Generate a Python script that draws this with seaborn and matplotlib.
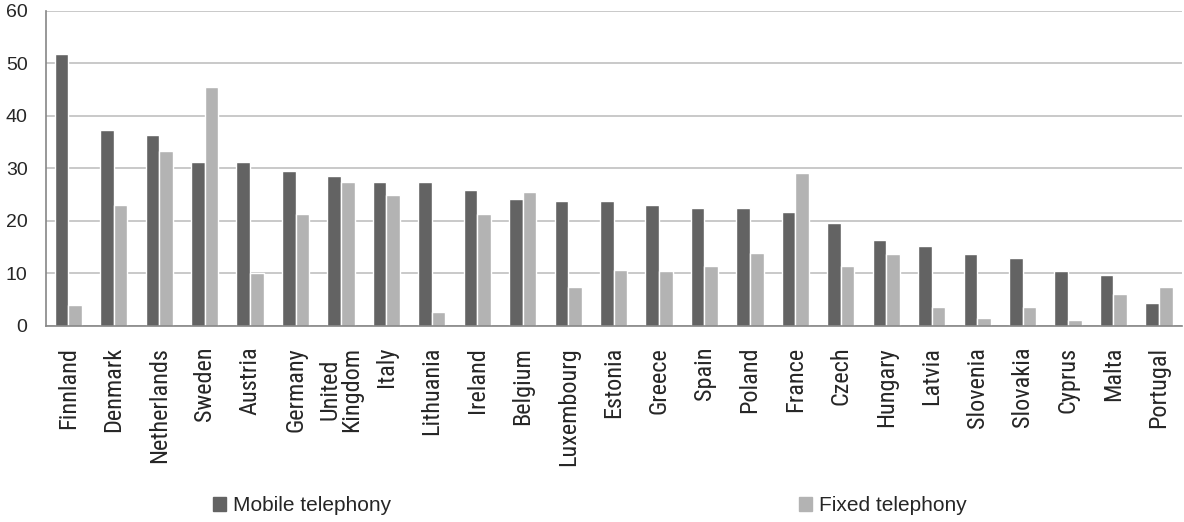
import pandas as pd
import seaborn as sns
import matplotlib.pyplot as plt
from matplotlib.patches import Patch

# country names, as shown on the x axis
countries = ["Finnland", "Denmark", "Netherlands", "Sweden", "Austria", "Germany",
             "United\nKingdom", "Italy", "Lithuania", "Ireland", "Belgium", "Luxembourg",
             "Estonia", "Greece", "Spain", "Poland", "France", "Czech", "Hungary",
             "Latvia", "Slovenia", "Slovakia", "Cyprus", "Malta", "Portugal"]

mobile = [51.8, 37.3, 36.3, 31.2, 31.2, 29.5, 28.5, 27.4, 27.4, 25.9, 24.2, 23.8,
          23.8, 23.0, 22.5, 22.5, 21.7, 19.6, 16.4, 15.2, 13.7, 13.0, 10.5, 9.7, 4.4]
fixed = [4.0, 23.0, 33.3, 45.5, 10.1, 21.3, 27.4, 24.9, 2.7, 21.3, 25.5, 7.4,
         10.7, 10.5, 11.4, 13.9, 29.1, 11.4, 13.7, 3.6, 1.5, 3.6, 1.1, 6.1, 7.4]

series = ["Mobile telephony", "Fixed telephony"]
colors = ["#636363", "#b3b3b3"]

df = pd.DataFrame({"country": countries * 2,
                   "value": mobile + fixed,
                   "type": [series[0]] * len(countries) + [series[1]] * len(countries)})

sns.set_style("white")
plt.rcParams["font.family"] = ["Liberation Sans", "DejaVu Sans"]

fig = plt.figure(figsize=(11.84, 5.22), dpi=100)
ax = fig.add_axes([0.0385, 0.3755, 0.9595, 0.6035])

sns.barplot(data=df, x="country", y="value", hue="type", palette=colors,
            width=0.6, saturation=1, legend=False, ax=ax)

ax.set_xlim(-0.5, len(countries) - 0.5)
ax.set_ylim(0, 60)
ax.set_yticks(range(0, 61, 10))
ax.yaxis.grid(True, color="#c0c0c0", linewidth=1.2)
ax.set_axisbelow(True)
ax.set_xlabel("")
ax.set_ylabel("")

for s in ["top", "right"]:
    ax.spines[s].set_visible(False)
for s in ["left", "bottom"]:
    ax.spines[s].set_color("#868686")
    ax.spines[s].set_linewidth(1.2)

# tick marks sit between the categories
ax.set_xticks([i - 0.5 for i in range(len(countries) + 1)], minor=True)
ax.tick_params(axis="x", which="minor", length=5, color="#868686", width=1.2, direction="out")
ax.tick_params(axis="x", which="major", length=0, pad=15)
ax.set_xticks(range(len(countries)))
ax.set_xticklabels(countries, rotation=90, fontsize=17.5, ha="center", va="top",
                   linespacing=0.9, family=["Roboto Condensed", "DejaVu Sans"])
ax.tick_params(axis="y", length=5, color="#868686", width=1.2, labelsize=14, pad=8)

handles = [Patch(color=c, label=l) for c, l in zip(colors, series)]
fig.legend(handles=handles, loc="center", bbox_to_anchor=(0.498, 0.031), ncol=2,
           frameon=False, fontsize=15, columnspacing=19.6, handlelength=0.62,
           handleheight=0.62, handletextpad=0.33)

plt.savefig("out.png", dpi=100)
